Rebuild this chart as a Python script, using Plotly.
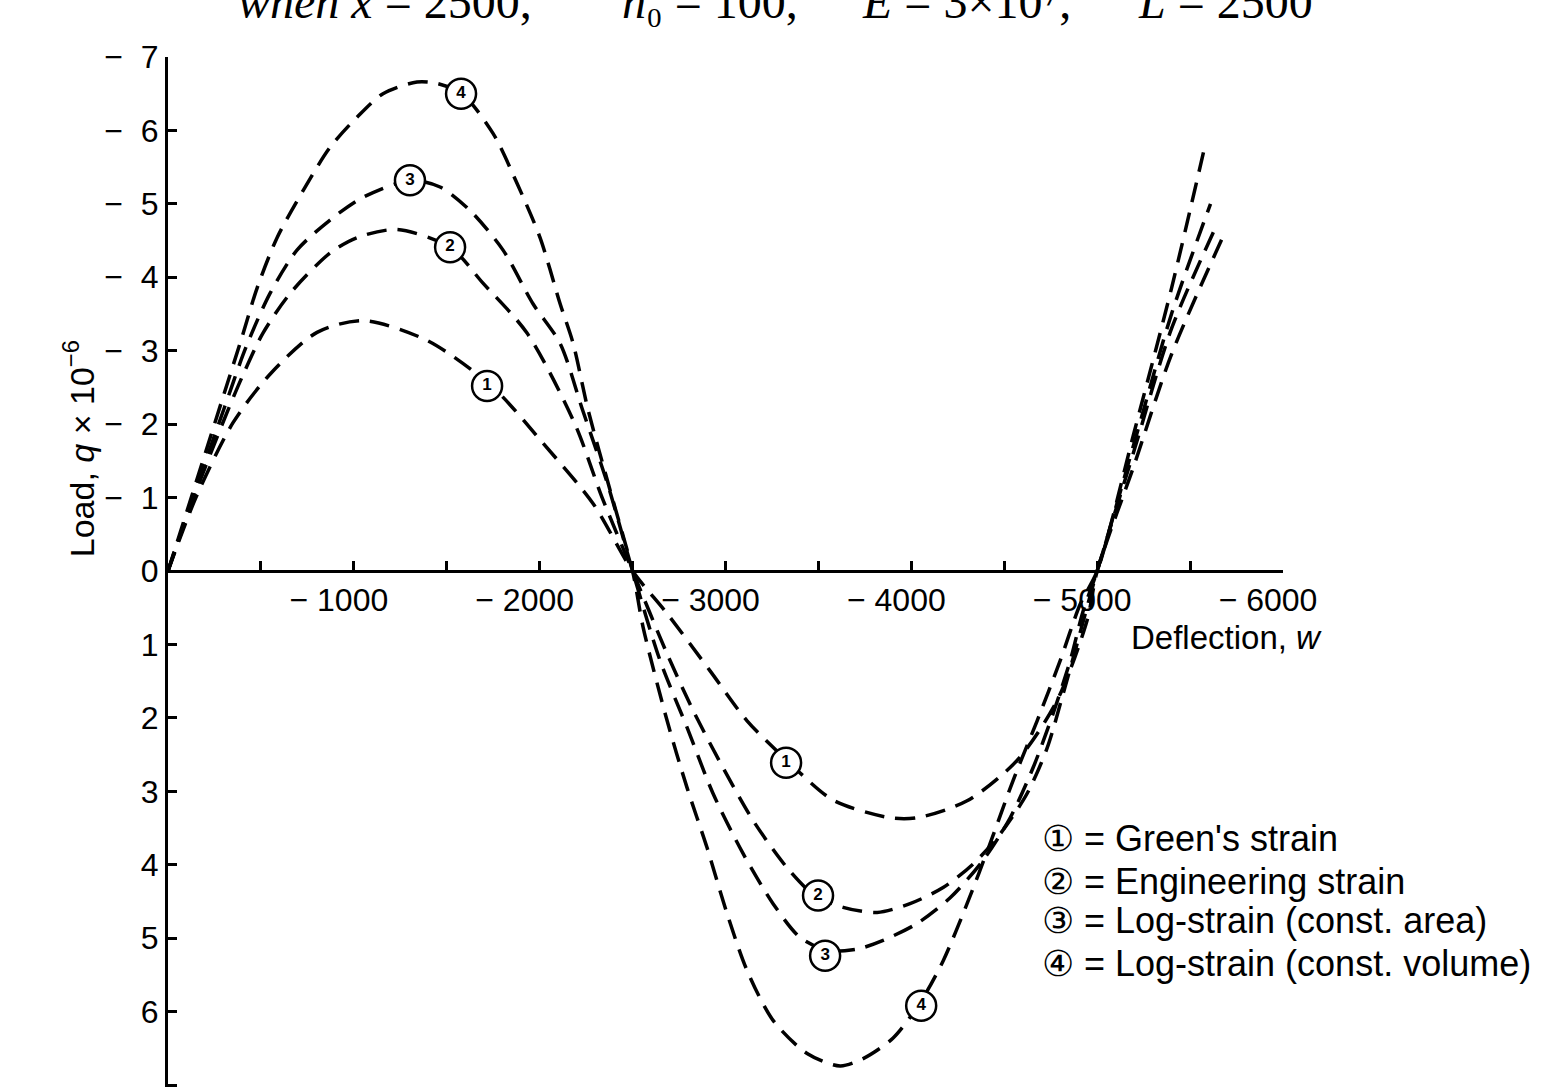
import plotly.graph_objects as go

# ---- data (deflection w, load q x 1e-6; negative q plotted upward) ----
w_green = [0, 150, 350, 549, 802, 1050, 1394, 1749, 2018, 2287, 2500, 2686, 2917, 3116, 3331,
           3579, 3886, 4031, 4300, 4569, 4785, 4946, 5000, 5200, 5400, 5689]
q_green = [0, -1.0, -2.02, -2.68, -3.25, -3.41, -3.14, -2.50, -1.74, -0.92, 0, 0.58, 1.36, 2.04, 2.58,
           3.12, 3.36, 3.36, 3.13, 2.58, 1.76, 0.67, 0, -1.45, -2.95, -4.62]

w_eng = [0, 150, 300, 400, 511, 657, 872, 1017, 1232, 1518, 1695, 1932, 2190, 2336, 2500, 2686, 2826,
         2987, 3149, 3331, 3471, 3633, 3816, 3993, 4171, 4333, 4478, 4623, 4731, 4817, 4892, 5000,
         5200, 5400, 5650]
q_eng = [0, -1.08, -2.05, -2.65, -3.24, -3.78, -4.33, -4.54, -4.65, -4.41, -3.92, -3.24, -2.0, -1.0, 0,
         1.13, 1.90, 2.68, 3.40, 4.04, 4.40, 4.58, 4.65, 4.53, 4.31, 3.99, 3.58, 3.03, 2.41, 1.67, 0.99, 0,
         -1.65, -3.3, -4.75]

w_logA = [0, 150, 300, 420, 549, 694, 872, 1050, 1302, 1464, 1625, 1803, 1964, 2110, 2230, 2370, 2500,
          2648, 2793, 2933, 3095, 3256, 3401, 3547, 3708, 3848, 4031, 4209, 4386, 4532, 4655, 4763,
          4855, 4925, 5000, 5200, 5400, 5610]
q_logA = [0, -1.12, -2.2, -3.05, -3.78, -4.37, -4.78, -5.09, -5.32, -5.23, -4.91, -4.37, -3.64, -3.10,
          -2.2, -1.15, 0, 1.22, 2.13, 3.03, 3.85, 4.53, 4.99, 5.17, 5.15, 5.03, 4.80, 4.45, 3.94, 3.36,
          2.68, 1.94, 1.22, 0.54, 0, -1.75, -3.5, -5.0]

w_logV = [0, 150, 300, 400, 479, 587, 727, 872, 1017, 1157, 1340, 1448, 1582, 1749, 1878, 2002, 2110,
          2180, 2260, 2379, 2500, 2557, 2686, 2793, 2901, 3009, 3116, 3256, 3439, 3617, 3741, 3902,
          4047, 4171, 4300, 4424, 4548, 4677, 4801, 4909, 5000, 5200, 5400, 5581]
q_logV = [0, -1.2, -2.4, -3.2, -3.85, -4.54, -5.18, -5.77, -6.18, -6.50, -6.66, -6.64, -6.50, -5.96,
          -5.28, -4.54, -3.64, -3.10, -2.2, -1.1, 0, 0.77, 2.04, 2.95, 3.77, 4.67, 5.44, 6.12, 6.57, 6.74,
          6.64, 6.36, 5.88, 5.31, 4.53, 3.71, 2.85, 2.04, 1.22, 0.45, 0, -1.9, -3.85, -5.80]

# circled curve labels placed on the curves
label_w = [1717, 3326, 1518, 3498, 1302, 3536, 1577, 4053]
label_q = [-2.52, 2.61, -4.41, 4.42, -5.32, 5.24, -6.50, 5.92]
label_txt = ["1", "1", "2", "2", "3", "3", "4", "4"]

legend_lines = ["① = Green's strain", "② = Engineering strain",
                "③ = Log-strain (const. area)", "④ = Log-strain (const. volume)"]
legend_q = [3.64, 4.23, 4.76, 5.35]

x_tickvals = [500, 1000, 1500, 2000, 2500, 3000, 3500, 4000, 4500, 5000, 5500, 6000]
x_ticktext = ["", "− 1000", "", "− 2000", "", "− 3000", "", "− 4000", "", "− 5000", "", "− 6000"]
y_tickvals = [-7, -6, -5, -4, -3, -2, -1, 0, 1, 2, 3, 4, 5, 6, 7]
y_ticktext = ["−\u00a0\u00a07", "−\u00a0\u00a06", "−\u00a0\u00a05", "−\u00a0\u00a04", "−\u00a0\u00a03",
              "−\u00a0\u00a02", "−\u00a0\u00a01", "0", "1", "2", "3", "4", "5", "6", "7"]

heading_parts = ["<i>when x</i> = 2500,", "<i>h</i>₀ = 100,", "<i>E</i> = 3×10⁷,", "<i>L</i> = 2500"]
heading_left_px = [236, 620, 860, 1136]

FONT = "Liberation Sans, Arial, sans-serif"
SERIF = "Liberation Serif, Times New Roman, serif"

fig = go.Figure()
for w, q in [(w_green, q_green), (w_eng, q_eng), (w_logA, q_logA), (w_logV, q_logV)]:
    fig.add_trace(go.Scatter(
        x=w, y=q, mode="lines",
        line=dict(color="black", width=3.5, dash="20px,11px", shape="spline", smoothing=0.8),
        hoverinfo="skip"))

fig.add_trace(go.Scatter(
    x=label_w, y=label_q, mode="markers+text", text=label_txt,
    textposition="middle center",
    textfont=dict(family=FONT, size=17, color="black", weight="bold"),
    marker=dict(symbol="circle", size=30, color="white", line=dict(color="black", width=2.5)),
    hoverinfo="skip"))

fig.update_layout(
    width=1547, height=1087,
    margin=dict(l=168, r=264, t=57, b=0),
    paper_bgcolor="white", plot_bgcolor="white",
    showlegend=False,
    font=dict(family=FONT, color="black", size=32),
    xaxis=dict(range=[0, 6000], anchor="free", position=(7.027 / 14.027),
               tickvals=x_tickvals, ticktext=x_ticktext,
               ticks="inside", ticklen=9, tickwidth=2.5, tickcolor="black",
               ticklabelshift=-15, ticklabelstandoff=0,
               showline=True, linewidth=3, linecolor="black",
               showgrid=False, zeroline=False,
               tickfont=dict(size=32)),
    yaxis=dict(range=[7.027, -7.0],
               tickvals=y_tickvals, ticktext=y_ticktext,
               ticks="inside", ticklen=9, tickwidth=2.5, tickcolor="black",
               showline=True, linewidth=3, linecolor="black",
               showgrid=False, zeroline=False,
               tickfont=dict(size=32)),
)

# y-axis title
fig.add_annotation(text="Load, <i>q</i> × 10<sup>−6</sup>", xref="paper", yref="paper",
                   x=-0.08, y=0.62, textangle=-90, showarrow=False,
                   font=dict(size=34), xanchor="center", yanchor="middle")
# x-axis title
fig.add_annotation(text="Deflection, <i>w</i>", xref="paper", yref="paper",
                   x=(1324 - 168) / 1115, y=1 - (637 - 57) / 1030,
                   showarrow=False, xanchor="right", yanchor="middle", font=dict(size=33))
# legend text
for txt, qv in zip(legend_lines, legend_q):
    fig.add_annotation(text=txt, xref="x", yref="y", x=4690, y=qv, showarrow=False,
                       xanchor="left", yanchor="middle", font=dict(size=36))

# cut-off heading at the top of the page
for txt, px in zip(heading_parts, heading_left_px):
    fig.add_annotation(text=txt, xref="paper", yref="paper",
                       x=(px - 168) / 1115, y=1.026, xanchor="left", yanchor="bottom",
                       showarrow=False, font=dict(family=SERIF, size=48))

fig.write_html("out.html", config={"displayModeBar": False},
               post_script="document.body.style.margin='0';")
